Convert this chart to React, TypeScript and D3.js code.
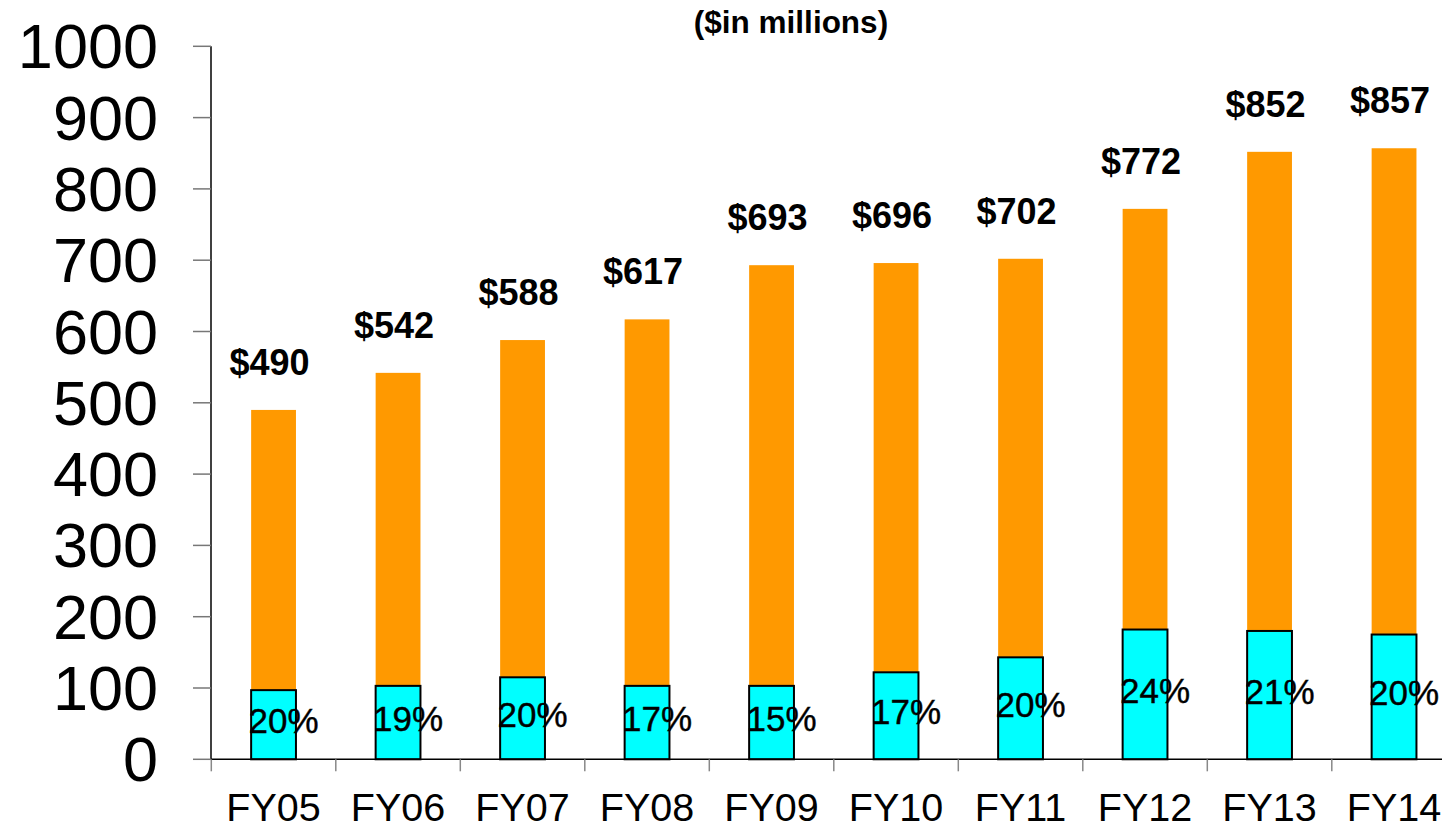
import React from 'react';
import * as d3 from 'd3';

const categories = ['FY05', 'FY06', 'FY07', 'FY08', 'FY09', 'FY10', 'FY11', 'FY12', 'FY13', 'FY14'];
const totals = [490, 542, 588, 617, 693, 696, 702, 772, 852, 857];
const segment = [97, 103, 115, 103, 103, 122, 143, 182, 180, 175];
const percents = ['20%', '19%', '20%', '17%', '15%', '17%', '20%', '24%', '21%', '20%'];
const yTicks = [0, 100, 200, 300, 400, 500, 600, 700, 800, 900, 1000];
const title = '($in millions)';

const W = 1442;
const H = 830;
const FONT = '"Liberation Sans", Arial, Helvetica, sans-serif';

export default function App() {
  const x = d3.scaleBand<string>().domain(categories).range([211.3, 1456.3]).padding(0);
  const y = d3.scaleLinear().domain([0, 1000]).range([759.3, 46.3]);
  const bw = x.bandwidth() * 0.36;

  return (
    <svg width={W} height={H} style={{ position: 'absolute', left: 0, top: 0, background: '#fff' }}>
      <text x={791} y={33} textAnchor="middle" fontFamily={FONT} fontWeight="bold" fontSize={31.5}>
        {title}
      </text>

      {categories.map((c, i) => {
        const cx = (x(c) as number) + x.bandwidth() / 2;
        return (
          <g key={c}>
            <rect x={cx - bw / 2} y={y(totals[i])} width={bw} height={y(0) - y(totals[i])} fill="#FF9900" />
            <rect
              x={cx - bw / 2}
              y={y(segment[i])}
              width={bw}
              height={y(0) - y(segment[i])}
              fill="#00FFFF"
              stroke="#000"
              strokeWidth={2}
            />
            <text
              x={cx - 4}
              y={y(totals[i]) - 35}
              textAnchor="middle"
              fontFamily={FONT}
              fontWeight="bold"
              fontSize={36}
            >
              {'$' + totals[i]}
            </text>
            <text
              x={cx + 10}
              y={(y(segment[i]) + y(0)) / 2 - 4}
              textAnchor="middle"
              dominantBaseline="central"
              fontFamily={FONT}
              fontSize={35}
              stroke="#000"
              strokeWidth={0.4}
            >
              {percents[i]}
            </text>
          </g>
        );
      })}

      {/* y axis */}
      <line x1={211} x2={211} y1={y(1000)} y2={y(0)} stroke="#000" strokeWidth={1.5} />
      {yTicks.map((t) => (
        <g key={t}>
          <line x1={193} x2={211} y1={y(t)} y2={y(t)} stroke="#777" strokeWidth={1.5} />
          <text
            x={158}
            y={y(t)}
            textAnchor="end"
            dominantBaseline="central"
            fontFamily={FONT}
            fontSize={63}
          >
            {t}
          </text>
        </g>
      ))}

      {/* x axis */}
      <line x1={211} x2={W} y1={y(0)} y2={y(0)} stroke="#000" strokeWidth={1.5} />
      {categories.map((c) => (
        <line key={'t' + c} x1={x(c) as number} x2={x(c) as number} y1={y(0)} y2={y(0) + 12} stroke="#888" strokeWidth={1.5} />
      ))}
      {categories.map((c) => (
        <text
          key={'l' + c}
          x={(x(c) as number) + x.bandwidth() / 2}
          y={821}
          textAnchor="middle"
          fontFamily={FONT}
          fontSize={39.5}
        >
          {c}
        </text>
      ))}
    </svg>
  );
}
